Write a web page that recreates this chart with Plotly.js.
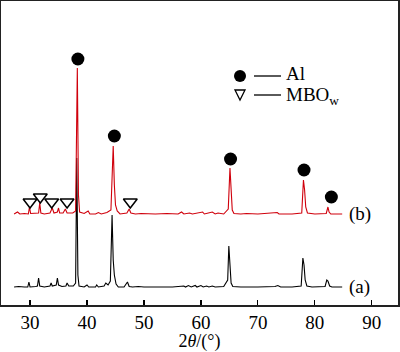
<!DOCTYPE html>
<html>
<head>
<meta charset="utf-8">
<script src="https://cdn.plot.ly/plotly-3.0.1.min.js"></script>
<style>html,body{margin:0;padding:0;background:#fff;}#chart{width:400px;height:352px;}</style>
</head>
<body>
<div id="chart"></div>
<script>
// Pattern (a) – black
const a_x = [27.2,28,29,29.6,29.8,30.0,31,31.3,31.5,31.7,32.5,33.5,33.7,33.9,34.6,34.8,35.0,35.6,36.3,36.5,36.8,37.6,38.0,38.2,38.4,38.6,39.5,40,40.3,41.5,41.7,42,43,43.3,43.7,44.1,44.4,44.6,44.8,45.1,45.5,46.5,47.1,47.4,48,49,50,52,55,57,57.3,57.8,58.3,59,59.3,60,60.4,61,61.4,62,62.5,64,64.7,64.9,65.1,65.3,65.6,67,70,73,73.5,74,76,77.6,77.9,78.1,78.3,78.6,79.5,81.8,82.1,82.3,82.6,83,84.8];
const a_y = [18,18.5,18,18,23,18,18.5,19,27,19,18,19,22,19,20,27,20,18.5,19,22,19,19,22,147,30,19,18,20,18,18,20,18,19,22,20,24,90,45,30,21,18,18,23,18.5,18,18.5,18,18,18,19,18,19.5,18,19.5,18,19.5,18,19,18,19,18,18.5,25,59,40,22,18.5,18,18,18.5,19.5,18,18,19,47,40,25,19,18,18.5,25,24,19,18,18];
// Pattern (b) – red
const b_x = [27.2,27.8,28.2,29,29.7,29.9,30.1,31,31.5,31.7,31.9,32.5,33.5,33.9,34.2,34.8,35.0,35.2,35.8,36.2,36.5,37.5,38.0,38.3,38.5,38.7,39.5,40.2,40.5,41.5,42,42.5,43.5,44.2,44.6,44.8,45.0,45.3,45.8,47.0,47.4,47.7,48.5,49.5,50.5,52,54,56,56.6,57,58,58.5,60.3,60.6,61.3,62,62.5,63,64,64.8,65.1,65.3,65.5,65.8,67,68,70,73.4,73.7,76,77.7,78.0,78.2,78.4,78.7,80,82,82.3,82.5,82.8,84.8];
const b_y = [91,93,91,91.5,91,98,91.5,91.5,92,102,92,91,92,97,92,93,97,92,92,96,92,92,94,237,110,93,91.5,94,91,91,92.5,91,92.5,95,159,120,100,94,91,92,96,92,91,91.5,91,91,91.5,91,93,91,92,91,93,91,92,93,91,92,91,96,137,115,95,91.5,91,91.5,91,92.5,91,91,92,125,115,98,92,91,91.5,98,93,91,91];
// Phase markers
const al_x = [38.4,44.8,65.2,78.1,82.9];
const al_y = [246,169,146,135,108];
const mbo_x = [30.0,31.8,33.8,36.5,47.6];
const mbo_y = [103,108,103,103,103];
const xticks = [30,40,50,60,70,80,90];
const curveLabels = ['(a)','(b)'];

const serif = 'Liberation Serif, Times New Roman, serif';
const traces = [
  {x:a_x, y:a_y, mode:'lines', line:{color:'#000', width:1.1}, hoverinfo:'skip'},
  {x:b_x, y:b_y, mode:'lines', line:{color:'#d0000c', width:1.1}, hoverinfo:'skip'},
  {x:al_x, y:al_y, mode:'markers', marker:{symbol:'circle', size:13, color:'#000'}, hoverinfo:'skip'},
  {x:mbo_x, y:mbo_y, mode:'markers', marker:{symbol:'triangle-down-open', size:12, color:'#000', line:{width:1.5, color:'#000'}}, hoverinfo:'skip'}
];

// legend geometry in paper coords (plot area 397 x 304 px)
const px = v => (v-1)/397;
const py = v => 1-(v-1)/304;
const shapes = [
  {type:'circle', xref:'paper', yref:'paper', x0:px(234), x1:px(246), y0:py(82), y1:py(70), fillcolor:'#000', line:{width:0}},
  {type:'line', xref:'paper', yref:'paper', x0:px(254), x1:px(281), y0:py(76), y1:py(76), line:{color:'#000', width:1.3}},
  {type:'path', xref:'paper', yref:'paper', path:`M ${px(235)} ${py(90)} L ${px(245)} ${py(90)} L ${px(240)} ${py(100)} Z`, line:{color:'#000', width:1.3}},
  {type:'line', xref:'paper', yref:'paper', x0:px(254), x1:px(281), y0:py(95), y1:py(95), line:{color:'#000', width:1.3}}
];
const annotations = [
  {xref:'paper', yref:'paper', x:px(284), y:py(74), xanchor:'left', yanchor:'middle', showarrow:false, text:'Al', font:{family:serif, size:19, color:'#000'}},
  {xref:'paper', yref:'paper', x:px(284), y:py(96), xanchor:'left', yanchor:'middle', showarrow:false, text:'MBO<sub>w</sub>', font:{family:serif, size:19, color:'#000'}},
  {x:85.6, y:18, xanchor:'left', yanchor:'middle', showarrow:false, text:curveLabels[0], font:{family:serif, size:19, color:'#000'}},
  {x:85.6, y:91, xanchor:'left', yanchor:'middle', showarrow:false, text:curveLabels[1], font:{family:serif, size:19, color:'#000'}}
];

const layout = {
  width:400, height:352,
  margin:{l:1, r:2, t:1, b:47},
  paper_bgcolor:'#fff', plot_bgcolor:'#fff',
  showlegend:false,
  font:{family:serif, size:19, color:'#000'},
  xaxis:{range:[24.9,94.6], tickvals:xticks, ticks:'inside', ticklen:5, tickwidth:1.2, tickcolor:'#000',
         showline:true, mirror:true, linecolor:'#222', linewidth:1.6, showgrid:false, zeroline:false,
         tickfont:{family:serif, size:19, color:'#000'},
         title:{text:'2<i>θ</i>/(°)', font:{family:serif, size:18, color:'#000'}, standoff:4}},
  yaxis:{range:[0,304], showticklabels:false, ticks:'', showline:true, mirror:true, linecolor:'#222', linewidth:1.6, showgrid:false, zeroline:false},
  shapes:shapes, annotations:annotations
};
Plotly.newPlot('chart', traces, layout, {displayModeBar:false, staticPlot:true});
</script>
</body>
</html>
